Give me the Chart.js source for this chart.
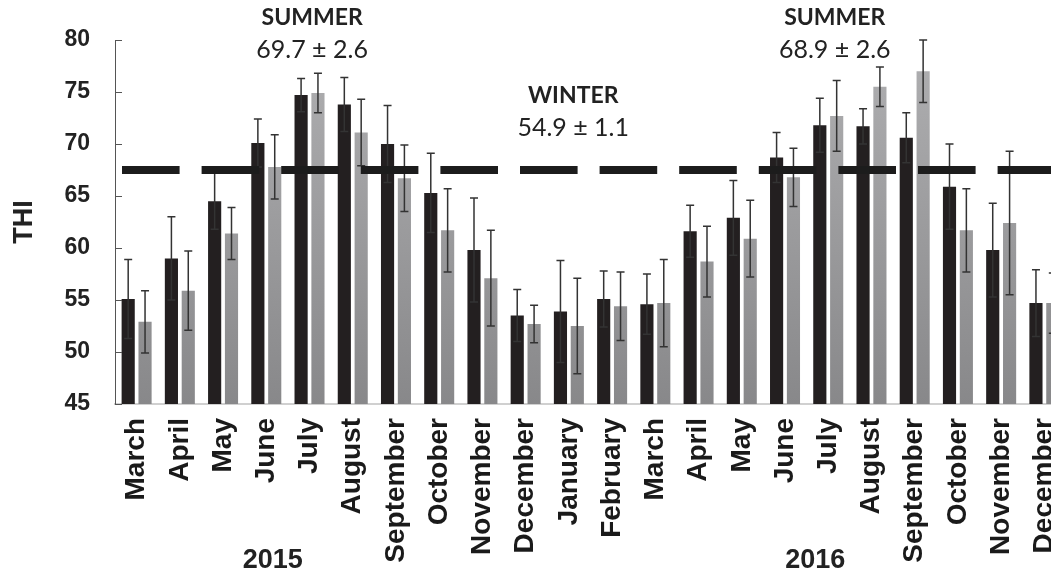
<!DOCTYPE html>
<html>
<head>
<meta charset="utf-8">
<script src="https://cdn.jsdelivr.net/npm/chart.js@4/dist/chart.umd.min.js"></script>
<style>
  html, body { margin: 0; padding: 0; background: #fff; overflow: hidden; }
  #wrap { width: 1068px; height: 575px; position: relative; }
</style>
</head>
<body>
<div id="wrap"><canvas id="chart"></canvas></div>
<script>
// months from March 2015 to December 2016 (the last one is cut off by the frame)
var months = ['March', 'April', 'May', 'June', 'July', 'August', 'September', 'October', 'November', 'December',
    'January', 'February', 'March', 'April', 'May', 'June', 'July', 'August', 'September', 'October', 'November', 'December'];
var seriesA = [55.1, 59.0, 64.5, 70.1, 74.7, 73.8, 70.0, 65.3, 59.8, 53.5, 53.9, 55.1, 54.6, 61.6, 62.9, 68.7, 71.8, 71.7, 70.6, 65.9, 59.8, 54.7];
var errA = [3.8, 4.0, 2.7, 2.3, 1.6, 2.6, 3.7, 3.8, 5.0, 2.5, 4.9, 2.7, 2.9, 2.5, 3.6, 2.4, 2.6, 1.7, 2.4, 4.1, 4.5, 3.2];
var seriesB = [52.9, 55.9, 61.4, 67.8, 74.9, 71.1, 66.7, 61.7, 57.1, 52.7, 52.5, 54.4, 54.7, 58.7, 60.9, 66.8, 72.7, 75.5, 77.0, 61.7, 62.4, 54.7];
var errB = [3.0, 3.8, 2.5, 3.1, 1.9, 3.2, 3.2, 4.0, 4.6, 1.8, 4.6, 3.3, 4.2, 3.4, 3.7, 2.8, 3.4, 1.9, 3.0, 4.0, 6.9, 2.9];
var threshold = 67.5;
var yTicks = [45, 50, 55, 60, 65, 70, 75, 80];

var seasonNames = ['SUMMER', 'WINTER', 'SUMMER'];
var seasonStats = ['69.7 \u00b1 2.6', '54.9 \u00b1 1.1', '68.9 \u00b1 2.6'];
var seasonAt = [4.06, 10.1, 16.15];     // category position the text is centred on
var years = ['2015', '2016'];
var yearAt = [3.15, 15.7];

function grayFill(context) {
    var area = context.chart.chartArea;
    if (!area) return '#9a9a9c';
    var g = context.chart.ctx.createLinearGradient(0, area.top, 0, area.bottom);
    g.addColorStop(0, '#b0b0b2');
    g.addColorStop(1, '#88888a');
    return g;
}

var overlay = {
    id: 'overlay',
    afterDatasetsDraw: function (chart) {
        var ctx = chart.ctx, x = chart.scales.x, y = chart.scales.y, area = chart.chartArea;
        ctx.save();
        ctx.beginPath();
        ctx.rect(area.left, area.top - 1, area.right - area.left, area.bottom - area.top + 1);
        ctx.clip();

        // error bars
        [errA, errB].forEach(function (errs, di) {
            var meta = chart.getDatasetMeta(di);
            var vals = chart.data.datasets[di].data;
            meta.data.forEach(function (bar, i) {
                var top = y.getPixelForValue(vals[i] + errs[i]);
                var bot = y.getPixelForValue(vals[i] - errs[i]);
                ctx.strokeStyle = '#333';
                ctx.lineWidth = 1.5;
                ctx.beginPath();
                ctx.moveTo(bar.x, top); ctx.lineTo(bar.x, bot);
                ctx.moveTo(bar.x - 4, top); ctx.lineTo(bar.x + 4, top);
                ctx.moveTo(bar.x - 4, bot); ctx.lineTo(bar.x + 4, bot);
                ctx.stroke();
            });
        });

        // dashed threshold
        var ty = y.getPixelForValue(threshold);
        ctx.strokeStyle = '#1c1c1c';
        ctx.lineWidth = 8;
        ctx.setLineDash([57.6, 22]);
        ctx.beginPath();
        ctx.moveTo(area.left + 7, ty);
        ctx.lineTo(area.right, ty);
        ctx.stroke();
        ctx.restore();

        // small inside ticks on the y axis
        ctx.save();
        ctx.strokeStyle = '#555';
        ctx.lineWidth = 1;
        y.ticks.forEach(function (t) {
            var py = Math.round(y.getPixelForValue(t.value)) + 0.5;
            ctx.beginPath();
            ctx.moveTo(area.left, py);
            ctx.lineTo(area.left + 7, py);
            ctx.stroke();
        });

        // season annotations
        ctx.fillStyle = '#222';
        ctx.textAlign = 'center';
        ctx.textBaseline = 'middle';
        seasonNames.forEach(function (name, i) {
            var px = x.getPixelForValue(seasonAt[i]);
            var oy = name === 'WINTER' ? 78 : 0;
            ctx.font = 'bold 23px Lato';
            ctx.fillText(name, px, area.top - 22 + oy);
            ctx.font = '25px Lato';
            ctx.fillText(seasonStats[i], px, area.top + 10 + oy);
        });

        // years under the month labels
        ctx.font = 'bold 27px "Liberation Sans"';
        years.forEach(function (yr, i) {
            ctx.fillText(yr, x.getPixelForValue(yearAt[i]), area.bottom + 157);
        });
        ctx.restore();
    }
};

new Chart(document.getElementById('chart'), {
    type: 'bar',
    data: {
        labels: months,
        datasets: [{
            data: seriesA,
            backgroundColor: '#231f20',
            categoryPercentage: 0.78,
            barPercentage: 0.78
        }, {
            data: seriesB,
            backgroundColor: grayFill,
            categoryPercentage: 0.78,
            barPercentage: 0.78
        }]
    },
    options: {
        responsive: true,
        maintainAspectRatio: false,
        animation: false,
        layout: { padding: { top: 40, right: 2, left: 0, bottom: 0 } },
        plugins: { legend: { display: false }, tooltip: { enabled: false } },
        scales: {
            x: {
                grid: { display: false, drawTicks: false },
                border: { display: true, color: '#d0d0d0', width: 2 },
                ticks: {
                    autoSkip: false, maxRotation: 90, minRotation: 90, padding: 14,
                    color: '#1a1a1a', font: { family: '"Liberation Sans"', weight: 'bold', size: 28 }
                },
                afterFit: function (scale) {
                    scale.height = 171;
                    scale.paddingLeft = 0;
                    scale.paddingRight = 0;
                }
            },
            y: {
                min: 45, max: 80,
                afterBuildTicks: function (scale) {
                    scale.ticks = yTicks.map(function (v) { return { value: v }; });
                },
                grid: { display: false, drawTicks: false },
                border: { display: true, color: '#555', width: 1 },
                ticks: {
                    padding: 25, color: '#222',
                    font: { family: '"Liberation Sans"', weight: 'bold', size: 23 }
                },
                title: {
                    display: true, text: 'THI', color: '#222', padding: 8,
                    font: { family: '"Liberation Sans"', weight: 'bold', size: 27 }
                },
                afterFit: function (scale) { scale.width = 115; }
            }
        }
    },
    plugins: [overlay]
});
</script>
</body>
</html>
